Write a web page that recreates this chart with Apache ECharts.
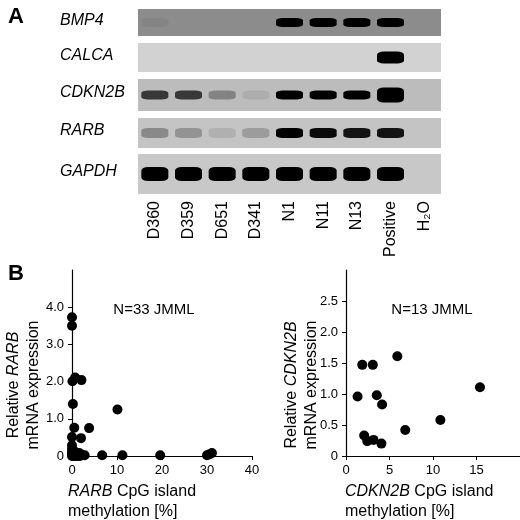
<!DOCTYPE html>
<html>
<head>
<meta charset="utf-8">
<script src="https://cdn.jsdelivr.net/npm/echarts@6/dist/echarts.min.js"></script>
<style>html,body{margin:0;padding:0;background:#fff}#chart{width:520px;height:520px}</style>
</head>
<body>
<div id="chart"></div>
<script>
var lanes = ['D360', 'D359', 'D651', 'D341', 'N1', 'N11', 'N13', 'Positive', 'H\u2082O'];
var genes = ['BMP4', 'CALCA', 'CDKN2B', 'RARB', 'GAPDH'];
// band darkness per lane (0 = none, 1 = saturated)
var bandBMP4 = [0.05, 0, 0, 0, 1, 1, 1, 1, 0];
var bandCALCA = [0, 0, 0, 0, 0, 0, 0, 1, 0];
var bandCDKN2B = [0.7, 0.7, 0.3, 0.08, 1, 1, 1, 1, 0];
var bandRARB = [0.3, 0.25, 0.1, 0.2, 1, 0.95, 0.9, 0.9, 0];
var bandGAPDH = [1, 1, 1, 1, 1, 1, 1, 1, 0];

var rarbMeth = [0, 0, 0.7, 0.1, 2.1, 0.2, 10.1, 0.5, 3.8, 2.0, 0, 0, 0, 0, 0.4, 1.0, 1.6, 2.1, 2.8, 6.7, 11.2, 19.6, 30.0, 30.6, 31.1, 0, 0.3, 1.3, 0.6, 0, 1.8, 0.2, 0.8];
var rarbExpr = [3.73, 3.5, 2.11, 2.01, 2.04, 1.40, 1.25, 0.76, 0.75, 0.48, 0.51, 0.29, 0.19, 0.06, 0.04, 0.04, 0.08, 0.04, 0.02, 0.02, 0.02, 0.02, 0.02, 0.05, 0.08, 0.1, 0, 0, 0.12, 0, 0, 0.03, 0];
var cdknMeth = [1.33, 1.87, 3.08, 5.9, 3.54, 4.15, 2.09, 2.44, 3.16, 4.07, 6.81, 10.85, 15.4];
var cdknExpr = [0.96, 1.47, 1.47, 1.61, 0.98, 0.83, 0.33, 0.24, 0.26, 0.20, 0.42, 0.58, 1.11];

var FONT = 'Liberation Sans';
var gels = [
  { data: bandBMP4, top: 9, h: 27, bg: '#8c8c8c', bh: 9 },
  { data: bandCALCA, top: 43, h: 29, bg: '#d2d2d2', bh: 12 },
  { data: bandCDKN2B, top: 79, h: 32, bg: '#bcbcbc', bh: 9 },
  { data: bandRARB, top: 118, h: 30, bg: '#c4c4c4', bh: 10 },
  { data: bandGAPDH, top: 154, h: 40, bg: '#c8c8c8', bh: 14 }
];

var grid = [], xAxis = [], yAxis = [], series = [], graphic = [];
gels.forEach(function (g, i) {
  grid.push({ left: 138, top: g.top, width: 303, height: g.h, show: true, backgroundColor: g.bg, borderWidth: 0 });
  xAxis.push({
    gridIndex: i, type: 'category', data: lanes, boundaryGap: true,
    axisLine: { show: false }, axisTick: { show: false },
    axisLabel: i === 4 ? { rotate: 90, fontFamily: FONT, fontSize: 16, color: '#000', margin: 7 } : { show: false }
  });
  yAxis.push({ gridIndex: i, type: 'value', min: -1, max: 1, show: false });
  series.push({
    type: 'scatter', xAxisIndex: i, yAxisIndex: i, symbol: 'roundRect',
    symbolSize: function (v, p) { return [27, (i === 2 && p.dataIndex === 7) ? 15 : g.bh]; },
    silent: true,
    data: g.data.map(function (v, k) { return { value: [k, 0], itemStyle: { color: '#000', opacity: v } }; })
  });
  graphic.push({ type: 'text', left: 60, top: g.top + g.h / 2 - 10,
    style: { text: genes[i], font: 'italic 16px ' + FONT, fill: '#000' } });
});

function fmt(v) { return v === 0 ? '0' : v.toFixed(1); }
var axisStyle = { lineStyle: { color: '#000', width: 1.2 } };
grid.push({ left: 72, top: 270, width: 180, height: 186 });
grid.push({ left: 346, top: 270, width: 174, height: 186 });
xAxis.push({ gridIndex: 5, type: 'value', min: 0, max: 40, interval: 10, axisLine: axisStyle,
  axisTick: { lineStyle: { color: '#000' }, length: 4 }, splitLine: { show: false },
  axisLabel: { fontFamily: FONT, fontSize: 13, color: '#000' } });
yAxis.push({ gridIndex: 5, type: 'value', min: 0, max: 5, interval: 1, axisLine: { show: true, lineStyle: axisStyle.lineStyle },
  axisTick: { show: true, lineStyle: { color: '#000' }, length: 4 }, splitLine: { show: false },
  axisLabel: { fontFamily: FONT, fontSize: 13, color: '#000', formatter: fmt, showMaxLabel: false } });
xAxis.push({ gridIndex: 6, type: 'value', min: 0, max: 20, interval: 5, axisLine: axisStyle,
  axisTick: { lineStyle: { color: '#000' }, length: 4 }, splitLine: { show: false },
  axisLabel: { fontFamily: FONT, fontSize: 13, color: '#000', showMaxLabel: false } });
yAxis.push({ gridIndex: 6, type: 'value', min: 0, max: 3, interval: 0.5, axisLine: { show: true, lineStyle: axisStyle.lineStyle },
  axisTick: { show: true, lineStyle: { color: '#000' }, length: 4 }, splitLine: { show: false },
  axisLabel: { fontFamily: FONT, fontSize: 13, color: '#000', formatter: fmt, showMaxLabel: false } });
series.push({ type: 'scatter', xAxisIndex: 5, yAxisIndex: 5, symbolSize: 10, itemStyle: { color: '#000', opacity: 1 },
  data: rarbMeth.map(function (x, k) { return [x, rarbExpr[k]]; }) });
series.push({ type: 'scatter', xAxisIndex: 6, yAxisIndex: 6, symbolSize: 10, itemStyle: { color: '#000', opacity: 1 },
  data: cdknMeth.map(function (x, k) { return [x, cdknExpr[k]]; }) });

var rich = { i: { fontStyle: 'italic', fontFamily: FONT, fontSize: 16, lineHeight: 20 }, n: { fontFamily: FONT, fontSize: 16, lineHeight: 20 } };
graphic.push(
  { type: 'text', left: 8, top: 6, style: { text: 'A', font: 'bold 22px ' + FONT, fill: '#000' } },
  { type: 'text', left: 8, top: 263, style: { text: 'B', font: 'bold 22px ' + FONT, fill: '#000' } },
  { type: 'text', x: 154, y: 310, style: { text: 'N=33 JMML', font: '15px ' + FONT, fill: '#000', align: 'center', verticalAlign: 'middle' } },
  { type: 'text', x: 432, y: 310, style: { text: 'N=13 JMML', font: '15px ' + FONT, fill: '#000', align: 'center', verticalAlign: 'middle' } },
  { type: 'text', x: 24, y: 385, rotation: Math.PI / 2, style: { text: '{n|Relative }{i|RARB}\n{n|mRNA expression}', rich: rich, align: 'center', verticalAlign: 'middle', fill: '#000' } },
  { type: 'text', x: 302, y: 385, rotation: Math.PI / 2, style: { text: '{n|Relative }{i|CDKN2B}\n{n|mRNA expression}', rich: rich, align: 'center', verticalAlign: 'middle', fill: '#000' } },
  { type: 'text', left: 68, top: 484, style: { text: '{i|RARB}{n| CpG island}\n{n|methylation [%]}', rich: rich, fill: '#000' } },
  { type: 'text', left: 345, top: 484, style: { text: '{i|CDKN2B}{n| CpG island}\n{n|methylation [%]}', rich: rich, fill: '#000' } }
);

var myChart = echarts.init(document.getElementById('chart'));
myChart.setOption({ animation: false, grid: grid, xAxis: xAxis, yAxis: yAxis, series: series, graphic: graphic });
</script>
</body>
</html>
